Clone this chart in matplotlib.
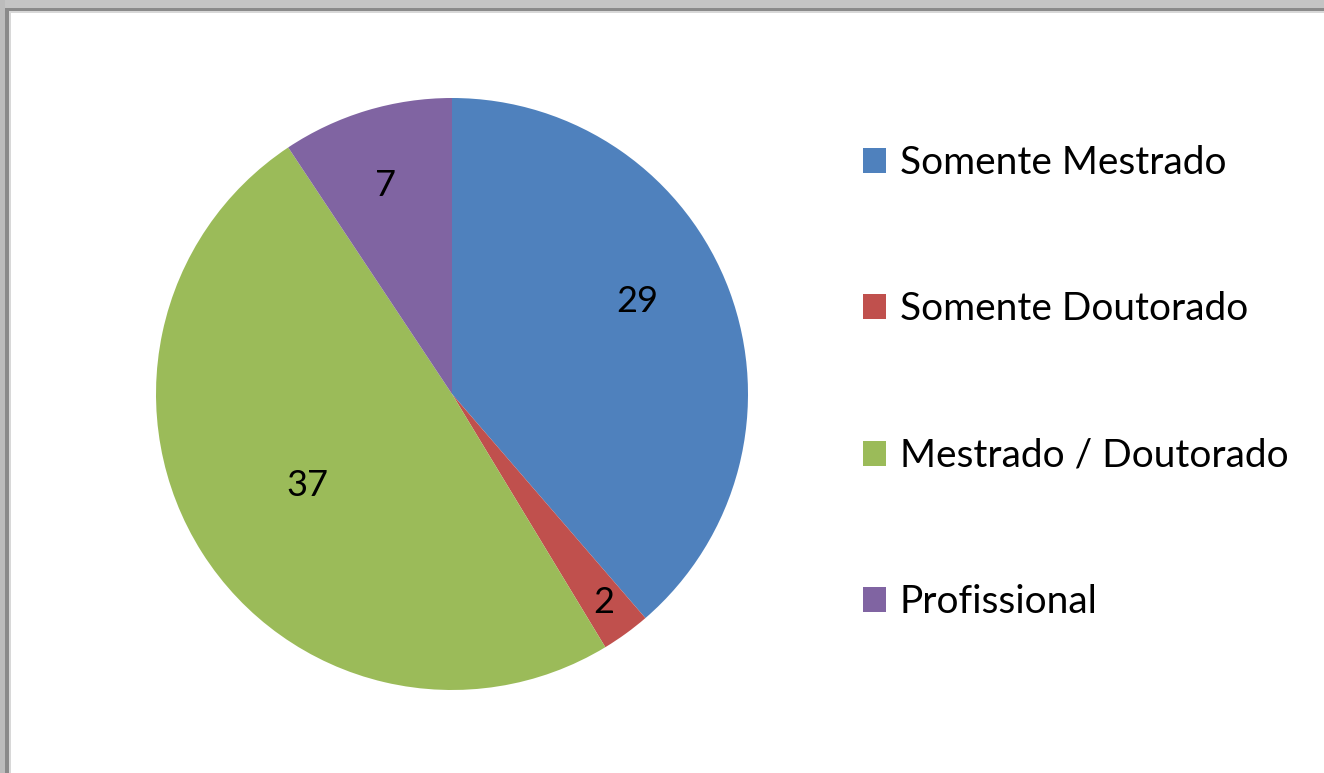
import matplotlib
matplotlib.use("Agg")
import matplotlib.pyplot as plt
from matplotlib.patches import Rectangle
import numpy as np

categories = ["Somente Mestrado", "Somente Doutorado", "Mestrado / Doutorado", "Profissional"]
values = [29, 2, 37, 7]
colors = ["#4F81BD", "#C0504D", "#9BBB59", "#8064A2"]
label_radius = [0.70, 0.87, 0.58, 0.74]
label_angle_shift = [6.0, 0.0, 0.0, 1.0]

plt.rcParams['font.family'] = ['Lato', 'DejaVu Sans']

W, H = 1324, 773
fig = plt.figure(figsize=(W / 100, H / 100), dpi=100)
fig.patch.set_facecolor("white")

# screenshot-like frame (top and left)
def px_rect(x0, y0, w, h, color):
    fig.patches.append(Rectangle((x0 / W, 1 - (y0 + h) / H), w / W, h / H,
                                 transform=fig.transFigure, color=color, lw=0, zorder=0))

px_rect(0, 0, W, 8, "#c4c4c4")
px_rect(0, 8, W, 3, "#8a8a8a")
px_rect(0, 11, W, 2, "#d8d8d8")
px_rect(0, 0, 5, H, "#bcbcbc")
px_rect(5, 8, 4, H, "#8a8a8a")
px_rect(9, 11, 2, H, "#d8d8d8")

cx, cy, r = 452, 394, 296
ax = fig.add_axes([(cx - r) / W, (H - cy - r) / H, 2 * r / W, 2 * r / H])
wedges, _ = ax.pie(values, colors=colors, startangle=90, counterclock=False,
                   wedgeprops=dict(linewidth=0))
ax.set_xlim(-1, 1)
ax.set_ylim(-1, 1)
ax.set_aspect("equal")

for w, v, lr, sh in zip(wedges, values, label_radius, label_angle_shift):
    ang = np.deg2rad((w.theta1 + w.theta2) / 2 + sh)
    ax.text(lr * np.cos(ang), lr * np.sin(ang), str(v), ha="center", va="center",
            fontsize=26, color="black")

leg = fig.legend(wedges, categories, loc="upper left",
                 bbox_to_anchor=(828 / W, 1 - 110 / H), frameon=False,
                 fontsize=28, labelspacing=2.84, handlelength=0.6, handleheight=0.6,
                 handletextpad=0.35)
for h in leg.legend_handles:
    h.set_linewidth(0)

fig.savefig("out.png", dpi=100)
